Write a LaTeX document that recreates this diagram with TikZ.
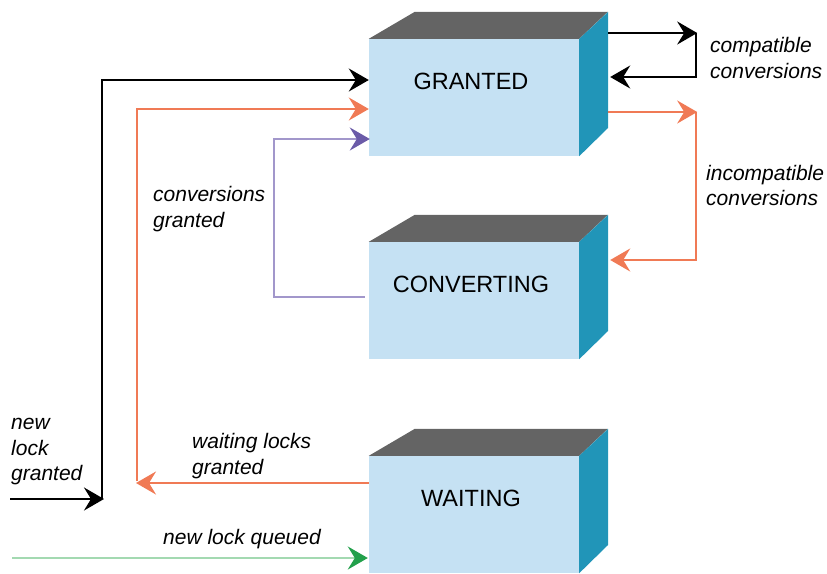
\documentclass[tikz,border=0pt]{standalone}
\usepackage{fontspec}
\setmainfont{Liberation Sans}
\usetikzlibrary{arrows.meta,calc}

\definecolor{facec}{HTML}{C5E1F3}
\definecolor{sidec}{HTML}{2195B8}
\definecolor{topc}{HTML}{646464}
\definecolor{orangec}{HTML}{F07A55}
\definecolor{purplel}{HTML}{A297CB}
\definecolor{purplea}{HTML}{6B5BA8}
\definecolor{greenl}{HTML}{A3D9B1}
\definecolor{greena}{HTML}{22A04B}

\tikzset{
  face/.style={rectangle, fill=facec, draw=none, minimum width=210pt, minimum height=117pt, inner sep=0pt},
  boxtext/.style={font=\fontsize{23.5}{28}\selectfont, inner sep=0pt},
  lbl/.style={font=\fontsize{21}{25.5}\selectfont\itshape, align=left, anchor=west, inner sep=0pt},
  tipk/.style={-{Stealth[length=20pt,width=23pt,inset=7pt,#1]}},
  conn/.style={line width=2.1pt},
  blackline/.style={conn, draw=black, tipk={black}},
  orangeline/.style={conn, draw=orangec, tipk={orangec}},
  purpleline/.style={conn, draw=purplel, tipk={purplea}},
  greenline/.style={conn, draw=greenl, tipk={greena}},
}

% a box: front face node, top and right faces drawn around it
\newcommand{\statebox}[3]{%
  \node[face] (#1) at (#2) {};
  \fill[topc] (#1.north west) -- ++(46,-27) -- ++(193,0) -- (#1.north east) -- cycle;
  \fill[sidec] (#1.north east) -- ++(29,-27) -- ++(0,116) -- (#1.south east) -- cycle;
  \node[boxtext] (#1-t) at ($(#1.center)+(-3,-16.5)$) {#3};
}

\begin{document}
\begin{tikzpicture}[x=1pt,y=-1pt]
\useasboundingbox (0,0) rectangle (827,573);

\statebox{gr}{474,97.5}{GRANTED}
\statebox{cv}{474,300.5}{CONVERTING}
\statebox{wt}{474,514.5}{WAITING}

% junction and turning points
\coordinate (nlstart) at (10,499);
\coordinate (nljoin) at (104,499);
\coordinate (nlup) at (102,499);
\coordinate (wlend) at (136,483);
\coordinate (wlup) at (137,481);
\coordinate (queuestart) at (12,558);

% new lock granted
\draw[blackline] (nlstart) -- (nljoin);
\draw[blackline] (nlup) |- ($(gr.west)+(0,-17.5)$);

% waiting locks granted
\draw[orangeline] ($(wt.west)+(0,-31.5)$) -- (wlend);
\draw[orangeline] (wlup) |- ($(gr.west)+(0,11.5)$);

% conversions granted
\draw[purpleline] ($(cv.west)+(-4,-3.5)$) -- ++(-91,0) |- ($(gr.west)+(1,41.5)$);

% new lock queued
\draw[greenline] (queuestart) -- ($(wt.west)+(-1,43.5)$);

% compatible conversions
\coordinate (cmpA) at ($(gr.east)+(29,-64.5)$);
\coordinate (cmpB) at ($(gr.east)+(118,-64.5)$);
\coordinate (cmpC) at ($(gr.east)+(117,-64.5)$);
\draw[blackline] (cmpA) -- (cmpB);
\draw[blackline] (cmpC) -- ++(0,44) -- ($(gr.east)+(31,-20.5)$);

% incompatible conversions
\coordinate (incA) at ($(gr.east)+(29,14.5)$);
\coordinate (incB) at ($(gr.east)+(118,14.5)$);
\coordinate (incC) at ($(gr.east)+(117,14.5)$);
\draw[orangeline] (incA) -- (incB);
\draw[orangeline] (incC) |- ($(cv.east)+(31,-40.5)$);

% labels
\node[lbl] (l-cmp) at (710,58) {compatible\\conversions};
\node[lbl] (l-inc) at (706,185.5) {incompatible\\conversions};
\node[lbl] (l-cvg) at (153,209) {conversions\\granted};
\node[lbl] (l-nlg) at (11,452) {new\\lock\\granted};
\node[lbl] (l-wlg) at (192,456) {waiting locks\\granted};
\node[lbl] (l-nlq) at (163,539) {new lock queued};
\end{tikzpicture}
\end{document}
